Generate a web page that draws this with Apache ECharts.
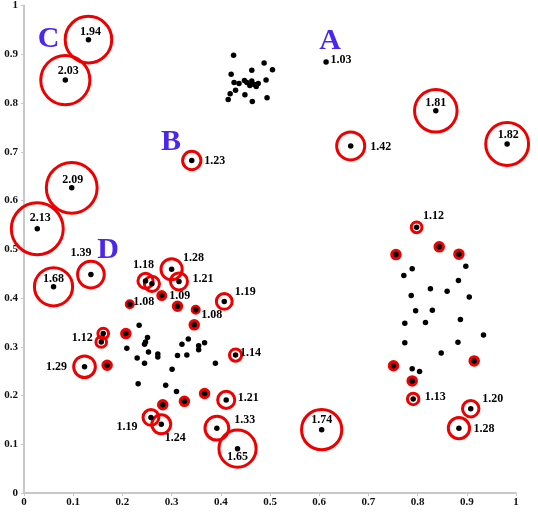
<!DOCTYPE html>
<html>
<head>
<meta charset="utf-8">
<script src="https://cdn.jsdelivr.net/npm/echarts@6/dist/echarts.min.js"></script>
<style>
  html, body { margin: 0; padding: 0; background: #fff; }
  #main { width: 538px; height: 521px; }
</style>
</head>
<body>
<div id="main"></div>
<script>
// 正常点 (三个簇)
let clusterA = [
  [0.426, 0.898], [0.488, 0.882], [0.505, 0.868], [0.421, 0.859], [0.463, 0.867],
  [0.427, 0.842], [0.437, 0.840], [0.448, 0.846], [0.463, 0.845], [0.459, 0.836],
  [0.468, 0.838], [0.476, 0.840], [0.492, 0.847], [0.430, 0.826], [0.419, 0.819],
  [0.449, 0.817], [0.415, 0.807], [0.464, 0.803], [0.494, 0.811], [0.453, 0.842],
  [0.472, 0.834],
]
let clusterD = [
  [0.234, 0.344], [0.251, 0.319], [0.247, 0.310], [0.245, 0.305], [0.209, 0.297],
  [0.253, 0.289], [0.272, 0.285], [0.272, 0.279], [0.230, 0.277], [0.245, 0.266],
  [0.312, 0.282], [0.321, 0.305], [0.334, 0.316], [0.331, 0.283], [0.355, 0.302],
  [0.355, 0.294], [0.367, 0.308], [0.389, 0.266], [0.301, 0.254], [0.232, 0.224],
  [0.288, 0.221], [0.310, 0.208],
]
let clusterRight = [
  [0.898, 0.465], [0.789, 0.460], [0.772, 0.446], [0.883, 0.436], [0.826, 0.419],
  [0.860, 0.414], [0.787, 0.405], [0.905, 0.402], [0.796, 0.374], [0.830, 0.375],
  [0.774, 0.348], [0.816, 0.350], [0.887, 0.356], [0.934, 0.324], [0.774, 0.308],
  [0.882, 0.309], [0.848, 0.287], [0.789, 0.255], [0.804, 0.249],
]
// 小红圈但没有标数值的点
let minorRinged = [
  [0.169, 0.262], [0.312, 0.383], [0.346, 0.345], [0.207, 0.327], [0.367, 0.204],
  [0.326, 0.188], [0.282, 0.181],
  [0.844, 0.505], [0.756, 0.489], [0.884, 0.490], [0.915, 0.271], [0.751, 0.261],
  [0.789, 0.230],
]
// 离群点: x, y, LOF
let outlierX = [
  0.131, 0.084, 0.097, 0.027, 0.341, 0.614, 0.837, 0.664, 0.982, 0.798,
  0.136, 0.060, 0.247, 0.260, 0.300, 0.315, 0.280, 0.215, 0.349, 0.407,
  0.161, 0.157, 0.430, 0.123, 0.411, 0.258, 0.279, 0.392, 0.434, 0.791,
  0.908, 0.884, 0.605,
]
let outlierY = [
  0.930, 0.847, 0.626, 0.542, 0.682, 0.884, 0.784, 0.712, 0.716, 0.545,
  0.448, 0.423, 0.435, 0.429, 0.459, 0.434, 0.405, 0.387, 0.376, 0.393,
  0.327, 0.310, 0.283, 0.259, 0.191, 0.155, 0.141, 0.133, 0.091, 0.193,
  0.173, 0.133, 0.130,
]
let outlierLof = [
  1.94, 2.03, 2.09, 2.13, 1.23, 1.03, 1.81, 1.42, 1.82, 1.12,
  1.39, 1.68, 1.18, 1.18, 1.28, 1.21, 1.09, 1.08, 1.08, 1.19,
  1.12, 1.12, 1.14, 1.29, 1.21, 1.19, 1.24, 1.33, 1.65, 1.13,
  1.20, 1.28, 1.74,
]
let letterNames = ['A', 'B', 'C', 'D']
let letterX = [0.622, 0.299, 0.050, 0.171]
let letterY = [0.927, 0.7195, 0.931, 0.497]

;(function () {
  lofChart()
})()

function lofChart() {
  let chart = echarts.init(document.getElementById('main'))

  // 标签相对点的偏移 (像素), null 表示不显示
  let labelOffset = [
    [2, -8], [3, -9], [1, -8], [3, -11], [23, 0], [15, -2], [0, -8], [30, 1], [1, -9], [17, -11],
    [-10, -22], [0, -8], [-2, -16], null, [22, -11], [24, -3], [18, 0], [14, -2], [16, 5], [21, -10],
    [-21, 4], null, [15, -2], [-28, 0], [22, -2], [-24, 9], [14, 14], [28, -8], [0, 8], [22, -2],
    [22, -10], [25, 1], [0, -10],
  ]

  let outliers = outlierX.map((x, i) => [x, outlierY[i], outlierLof[i]])
  let allDots = clusterA.concat(clusterD, clusterRight, minorRinged, outliers.map((p) => [p[0], p[1]]))

  let labelData = outliers.map((p, i) => ({
    value: p,
    label: labelOffset[i]
      ? { show: true, position: 'inside', offset: labelOffset[i] }
      : { show: false },
  }))

  let letterData = letterNames.map((name, i) => ({
    value: [letterX[i], letterY[i]],
    name: name,
  }))

  // 圈的半径随 LOF 增大
  function ringSize(lof) {
    if (lof < 1.05) return 0
    let r = 28.8 * Math.sqrt(lof - 1) - 3.15
    return 2 * r - 3
  }

  let axisCommon = {
    type: 'value',
    min: 0,
    max: 1,
    interval: 0.1,
    splitLine: { show: false },
    axisLine: { lineStyle: { color: '#c8c8c8', width: 2 } },
    axisTick: { show: true, inside: false, length: 3, lineStyle: { color: '#c8c8c8' } },
    axisLabel: {
      fontFamily: 'Liberation Serif',
      fontWeight: 'bold',
      fontSize: 11,
      color: '#111',
    },
  }

  let option = {
    animation: false,
    grid: {
      left: 24,
      right: 22,
      top: 0,
      bottom: 28,
    },
    xAxis: Object.assign({}, axisCommon, {
      axisLabel: Object.assign({}, axisCommon.axisLabel, { margin: 4 }),
    }),
    yAxis: Object.assign({}, axisCommon, {
      axisLabel: Object.assign({}, axisCommon.axisLabel, { margin: 6 }),
    }),
    series: [
      {
        // 大红圈
        type: 'scatter',
        data: outliers,
        clip: false,
        symbol: 'circle',
        symbolSize: (val) => ringSize(val[2]),
        itemStyle: {
          color: 'rgba(0,0,0,0)',
          borderColor: '#ee0000',
          borderWidth: 3,
          opacity: 1,
        },
        z: 1,
      },
      {
        // 小红圈
        type: 'scatter',
        data: minorRinged,
        clip: false,
        symbolSize: 8,
        itemStyle: {
          color: 'rgba(0,0,0,0)',
          borderColor: '#ee0000',
          borderWidth: 3.5,
          opacity: 1,
        },
        z: 1,
      },
      {
        type: 'scatter',
        data: allDots,
        clip: false,
        symbolSize: 5.5,
        itemStyle: { color: '#000', opacity: 1 },
        z: 2,
      },
      {
        // LOF 数值
        type: 'scatter',
        data: labelData,
        clip: false,
        symbolSize: 1,
        itemStyle: { color: 'rgba(0,0,0,0)', opacity: 1 },
        label: {
          formatter: (p) => p.value[2].toFixed(2),
          fontFamily: 'Liberation Serif',
          fontWeight: 'bold',
          fontSize: 12,
          color: '#000',
        },
        z: 3,
      },
      {
        // A B C D
        type: 'scatter',
        data: letterData,
        clip: false,
        symbolSize: 1,
        itemStyle: { color: 'rgba(0,0,0,0)', opacity: 1 },
        label: {
          show: true,
          position: 'inside',
          formatter: '{b}',
          fontFamily: 'Liberation Serif',
          fontWeight: 'bold',
          fontSize: 30,
          color: '#4b25f0',
        },
        z: 3,
      },
    ],
  }
  chart.setOption(option)
}
</script>
</body>
</html>
